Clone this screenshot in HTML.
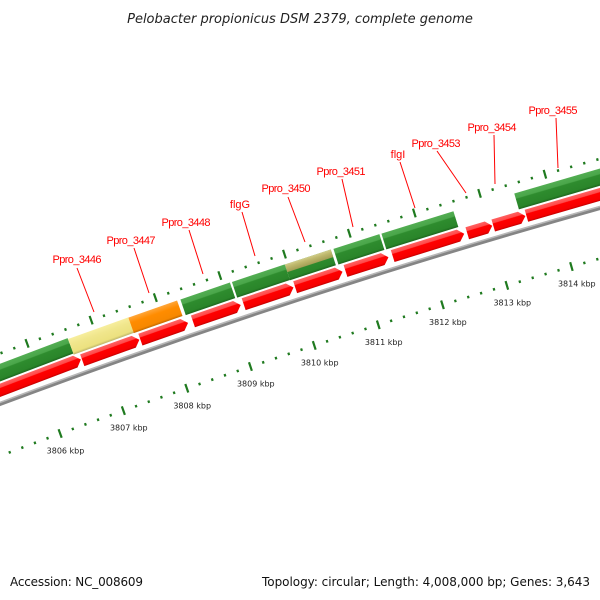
<!DOCTYPE html>
<html><head><meta charset="utf-8"><style>
html,body{margin:0;padding:0;background:#fff;}
svg{display:block;font-family:"Liberation Sans","DejaVu Sans",sans-serif;}
</style></head><body>
<svg id="map" width="600" height="600" viewBox="0 0 600 600">
<defs>
<linearGradient id="gGreen" x1="0" y1="0" x2="0" y2="1"><stop offset="0" stop-color="#52ad52"/><stop offset="0.3" stop-color="#4aa64a"/><stop offset="0.36" stop-color="#2e8c2e"/><stop offset="0.85" stop-color="#2a852a"/><stop offset="1" stop-color="#1c661c"/></linearGradient>
<linearGradient id="gRed" x1="0" y1="0" x2="0" y2="1"><stop offset="0" stop-color="#ff6060"/><stop offset="0.3" stop-color="#ff4a4a"/><stop offset="0.36" stop-color="#ff0000"/><stop offset="0.85" stop-color="#f50000"/><stop offset="1" stop-color="#c00000"/></linearGradient>
<linearGradient id="gYellow" x1="0" y1="0" x2="0" y2="1"><stop offset="0" stop-color="#f7ee9e"/><stop offset="0.36" stop-color="#f0e68c"/><stop offset="0.85" stop-color="#ece17f"/><stop offset="1" stop-color="#bdb56a"/></linearGradient>
<linearGradient id="gOrange" x1="0" y1="0" x2="0" y2="1"><stop offset="0" stop-color="#ffa63a"/><stop offset="0.36" stop-color="#ff8c00"/><stop offset="0.85" stop-color="#f78800"/><stop offset="1" stop-color="#c06800"/></linearGradient>
<linearGradient id="gKhaki" x1="0" y1="0" x2="0" y2="1"><stop offset="0" stop-color="#d2cc8a"/><stop offset="0.4" stop-color="#bdb76b"/><stop offset="1" stop-color="#a39d55"/></linearGradient>
</defs>
<text x="300" y="23" text-anchor="middle" font-size="13" font-style="italic" fill="#222" style="font-family:'DejaVu Sans',sans-serif">Pelobacter propionicus DSM 2379, complete genome</text>
<g id="backbone"></g>
<g id="ticks"></g>
<g id="genes"></g>
<g id="cds"></g>
<g id="labels"></g>
<text x="10" y="586" font-size="12" fill="#111" style="font-family:'DejaVu Sans',sans-serif" textLength="133">Accession: NC_008609</text>
<text x="590" y="586" text-anchor="end" font-size="12" fill="#111" style="font-family:'DejaVu Sans',sans-serif" textLength="328">Topology: circular; Length: 4,008,000 bp; Genes: 3,643</text>
</svg>
<script>
// data (kbp)
const geneStarts = [3804.7, 3806.59, 3807.53, 3808.34, 3809.14, 3809.96, 3810.71, 3811.45, 3813.49];
const geneEnds   = [3806.59, 3807.53, 3808.29, 3809.11, 3809.96, 3810.67, 3811.42, 3812.56, 3815.5];
const geneColors = ["gGreen","gYellow","gOrange","gGreen","gGreen","gKhaki","gGreen","gGreen","gGreen"];
const cdsStarts = [3804.7, 3806.68, 3807.59, 3808.41, 3809.2, 3810.0, 3810.78, 3811.51, 3812.66, 3813.06, 3813.57];
const cdsEnds   = [3806.68, 3807.59, 3808.35, 3809.17, 3809.99, 3810.75, 3811.46, 3812.63, 3813.06, 3813.57, 3815.5];
const tickKbp = [3804, 3805, 3806, 3807, 3808, 3809, 3810, 3811, 3812, 3813, 3814, 3815, 3816];
const tickLabels = ["3806 kbp","3807 kbp","3808 kbp","3809 kbp","3810 kbp","3811 kbp","3812 kbp","3813 kbp","3814 kbp"];
const tickLabelKbp = [3806, 3807, 3808, 3809, 3810, 3811, 3812, 3813, 3814];
const labelNames = ["Ppro_3446","Ppro_3447","Ppro_3448","flgG","Ppro_3450","Ppro_3451","flgI","Ppro_3453","Ppro_3454","Ppro_3455"];

const NS = "http://www.w3.org/2000/svg";
const CX = 2623, CY = 7416, R0 = 7487, A0 = -109.12, DEG = 0.518;
function ang(p){ return (A0 + (p - 3808) * DEG) * Math.PI / 180; }
function pt(p, d){ const a = ang(p); return [CX + (R0 + d) * Math.cos(a), CY + (R0 + d) * Math.sin(a)]; }
function mk(tag, attrs, parent){ const e = document.createElementNS(NS, tag); for (const k in attrs) e.setAttribute(k, attrs[k]); parent.appendChild(e); return e; }
function frame(p, parent){ const P = pt(p, 0); const a = ang(p) * 180 / Math.PI; return mk("g", {transform: "translate(" + P[0].toFixed(2) + "," + P[1].toFixed(2) + ") rotate(" + (a + 90).toFixed(4) + ")"}, parent); }
function arcLen(p1, p2, d){ return (R0 + d) * (ang(p2) - ang(p1)); }

// backbone
const bb = document.getElementById("backbone");
function arcPath(p1, p2, d){ const A = pt(p1, d), B = pt(p2, d); return "M" + A[0] + "," + A[1] + " A" + (R0 + d) + "," + (R0 + d) + " 0 0 1 " + B[0] + "," + B[1]; }
const bl = mk("path", {d: arcPath(3803, 3817, -0.5), fill: "none", stroke: "#858585", "stroke-width": 4}, bb);


const bh = mk("path", {d: arcPath(3803, 3817, 1), fill: "none", stroke: "#b8b8b8", "stroke-width": 1.6}, bb);



// ticks
const tg = document.getElementById("ticks");
function tickMark(p, d, major){
  const g = frame(p, tg);
  
  
  if (major) mk("rect", {x: -1, y: -d - 4.5, width: 2.2, height: 9, fill: "#1f7a1f"}, g);
  else mk("rect", {x: -1, y: -d - 1.2, width: 2.2, height: 2.6, fill: "#1f7a1f"}, g);
}
for (let i = 0; i < tickKbp.length; i++) {
  const k = tickKbp[i];
  tickMark(k, 47, true); tickMark(k, -49, true);
  if (i < tickKbp.length - 1) {
    const step = (tickKbp[i + 1] - k) / 5;
    for (let j = 1; j < 5; j++) { tickMark(k + j * step, 47, false); tickMark(k + j * step, -49, false); }
  }
}
for (let i = 0; i < tickLabels.length; i++) {
  const P = pt(tickLabelKbp[i], -49);
  const t = mk("text", {x: (P[0] + 5.5).toFixed(1), y: (P[1] + 20).toFixed(1), "text-anchor": "middle", "font-size": 8, fill: "#222", style: "font-family:'DejaVu Sans',sans-serif"}, tg);
  
  
  t.textContent = tickLabels[i];
}

// genes
const gg = document.getElementById("genes");
for (let i = 0; i < geneStarts.length; i++) {
  const g = frame(geneStarts[i], gg);
  
  
  const L = arcLen(geneStarts[i], geneEnds[i], 28);
  if (geneColors[i] === "gKhaki") {
    mk("rect", {x: 0, y: -37, width: L, height: 16.5, fill: "url(#gGreen)"}, g);
    mk("rect", {x: 0, y: -37, width: L, height: 8, fill: "url(#gKhaki)"}, g);
  } else {
    mk("rect", {x: 0, y: -37, width: L, height: 16.5, fill: "url(#" + geneColors[i] + ")"}, g);
  }
}
// cds arrows
const cg = document.getElementById("cds");
for (let i = 0; i < cdsStarts.length; i++) {
  const g = frame(cdsStarts[i], cg);
  
  
  const L = arcLen(cdsStarts[i], cdsEnds[i], 12) - 1;
  const hd = 6, top = -18.5, bot = -6, mid = -12.25;
  mk("polygon", {points: [0, top, L - hd, top, L, mid, L - hd, bot, 0, bot].join(" ").replace(/(\S+) (\S+)/g, "$1,$2"), fill: "url(#gRed)"}, g);
}

// labels
const lg = document.getElementById("labels");
const lx = [77, 131, 186, 240, 286, 341, 398, 436, 492, 553];
const ly = [263, 244, 226, 208, 192, 175, 158, 147, 131, 114];
const l1 = [[77,268],[134,248],[189,230],[242,212],[288,197],[342,179],[400,162],[437,151],[494,135],[556,118]];
const l2 = [[94,312],[149,293],[203,274],[255,256],[305,242],[353,227],[415,208],[466,193],[495,184],[558,168]];
for (let i = 0; i < labelNames.length; i++) {
  const ln = mk("line", {x1: l1[i][0], y1: l1[i][1], x2: l2[i][0], y2: l2[i][1], stroke: "#ff0000", "stroke-width": 1}, lg);
  
  
  const t = mk("text", {x: lx[i], y: ly[i], "text-anchor": "middle", "font-size": 11, fill: "#ff0000"}, lg);
  if (labelNames[i].length > 5) t.setAttribute("textLength", 49);
  
  
  t.textContent = labelNames[i];
}
</script>
</body></html>
